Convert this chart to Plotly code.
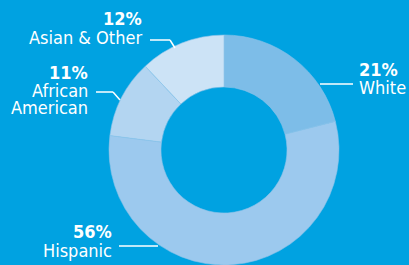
import plotly.graph_objects as go

categories = ["White", "Hispanic", "African American", "Asian & Other"]
values = [21, 56, 11, 12]
pct_labels = ["21%", "56%", "11%", "12%"]
name_lines = [["White"], ["Hispanic"], ["African", "American"], ["Asian & Other"]]

W, H = 409, 265
BG = "#00A2E1"
colors = ["#7DBDE8", "#9CC9EE", "#B3D5F1", "#CCE3F6"]

def px(x):
    return x / W

def py(y):
    return 1 - y / H

fig = go.Figure()
fig.add_trace(go.Pie(
    labels=categories, values=values, sort=False, direction="clockwise",
    rotation=0, hole=0.548, textinfo="none", hoverinfo="label+percent",
    marker=dict(colors=colors, line=dict(color="#8CC3EA", width=0.6)),
    domain=dict(x=[px(109), px(339)], y=[0, py(35)]),
    showlegend=False,
))

FONT = "Liberation Sans Narrow, DejaVu Sans Condensed, Roboto, sans-serif"
OFF = 5  # distance from annotation box top to cap top
# (category index, x anchor px, xanchor, pct cap top, [label cap tops])
ann_pos = [
    (0, 358, "left", 63, [81]),
    (1, 113, "right", 225, [244]),
    (2, 89, "right", 66, [84, 101]),
    (3, 143, "right", 12, [31]),
]
for i, x, xa, yp, ylab in ann_pos:
    fig.add_annotation(
        x=px(x), y=py(yp - OFF), xref="paper", yref="paper", xanchor=xa,
        yanchor="top", showarrow=False, align=xa, borderpad=0,
        text=f"<b>{pct_labels[i]}</b>",
        font=dict(family=FONT, size=18, color="white"),
    )
    for txt, yl in zip(name_lines[i], ylab):
        fig.add_annotation(
            x=px(x), y=py(yl - OFF), xref="paper", yref="paper", xanchor=xa,
            yanchor="top", showarrow=False, align=xa, borderpad=0,
            text=txt,
            font=dict(family=FONT, size=18, color="white"),
        )

lines = [
    [(150, 40), (170, 40), (175, 48)],
    [(96, 92), (113, 92), (120, 100)],
    [(320, 84), (353, 84)],
    [(119, 246), (158, 246)],
]
for pts in lines:
    for (x0, y0), (x1, y1) in zip(pts[:-1], pts[1:]):
        fig.add_shape(type="line", xref="paper", yref="paper",
                      x0=px(x0), y0=py(y0), x1=px(x1), y1=py(y1),
                      line=dict(color="white", width=1.5))

fig.update_layout(
    width=W, height=H, margin=dict(l=0, r=0, t=0, b=0),
    paper_bgcolor=BG, plot_bgcolor=BG,
)
fig.write_html(
    "out.html",
    config={"displayModeBar": False},
    post_script="document.body.style.margin='0';document.body.style.overflow='hidden';",
)
